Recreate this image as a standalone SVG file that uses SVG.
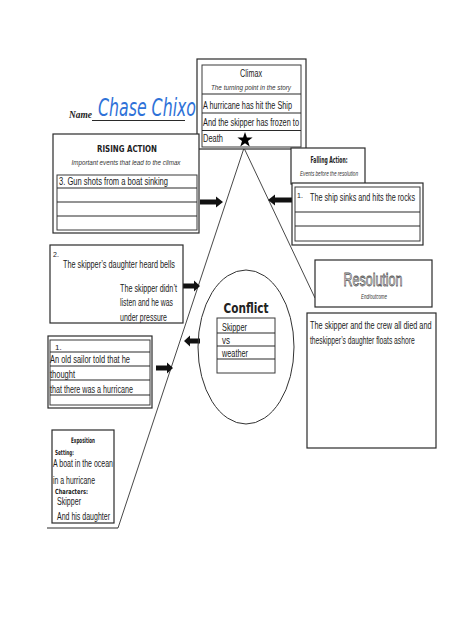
<svg xmlns="http://www.w3.org/2000/svg" width="474" height="632" viewBox="0 0 474 632">
<style>
.bg{fill:#fff}
.box{fill:#fff;stroke:#2a2a2a;stroke-width:1.2}
.thin{fill:none;stroke:#3a3a3a;stroke-width:1}
.ln{stroke:#2a2a2a;stroke-width:1.1;fill:none}
.plot{stroke:#333;stroke-width:0.9;fill:none}
.arr{fill:#111;stroke:none}
.t{font-family:"Liberation Sans Narrow","Liberation Sans",Arial,sans-serif;font-size:10.5px;fill:#1a1a1a}
.it{font-family:"Liberation Sans Narrow","Liberation Sans",Arial,sans-serif;font-size:7px;font-style:italic;fill:#333}
.hd{font-family:"DejaVu Sans",Verdana,sans-serif;font-weight:bold;fill:#222}
</style>
<rect class="bg" x="0" y="0" width="474" height="632"/>

<g id="connectors">
  <path class="plot" d="M118 528 L244 148 L315 298"/>
  <line class="ln" x1="47" y1="528" x2="118" y2="528"/>
  <path class="arr" d="M200 199.5 H216 V196.5 L223 202 L216 207.5 V204.5 H200 Z"/>
  <path class="arr" d="M292 197.5 H275 V194.5 L268 200 L275 205.5 V202.5 H292 Z"/>
  <path class="arr" d="M183 283.5 H194 V280.5 L200 286 L194 291.5 V288.5 H183 Z"/>
  <path class="arr" d="M200 338.5 H190 V335.5 L184 341 L190 346.5 V343.5 H200 Z"/>
  <path class="arr" d="M156 365.5 H167 V362.5 L173 368 L167 373.5 V370.5 H156 Z"/>
</g>

<g id="name">
  <text x="69" y="118" style="font-family:'Liberation Serif',serif;font-style:italic;font-weight:bold;font-size:10px;fill:#222" textLength="23" lengthAdjust="spacingAndGlyphs">Name</text>
  <line class="ln" x1="92" y1="120.5" x2="185" y2="120.5"/>
  <text transform="translate(98,116) scale(1,1.55)" x="0" y="0" style="font-family:'DejaVu Sans',sans-serif;font-style:italic;font-size:16px;fill:#2f72d8" textLength="98" lengthAdjust="spacingAndGlyphs">Chase Chixo</text>
</g>

<g id="climax">
  <rect class="box" x="197" y="59" width="109" height="90"/>
  <rect class="thin" x="202" y="65" width="99" height="82"/>
  <text x="251" y="77" text-anchor="middle" class="t" style="font-size:10px" textLength="22" lengthAdjust="spacingAndGlyphs">Climax</text>
  <text x="251" y="90" text-anchor="middle" class="it" style="font-size:7.5px" textLength="80" lengthAdjust="spacingAndGlyphs">The turning point in the story</text>
  <line class="ln" x1="202" y1="94" x2="301" y2="94"/>
  <text x="203" y="109" class="t" style="font-size:10px" textLength="89" lengthAdjust="spacingAndGlyphs">A hurricane has hit the Ship</text>
  <line class="ln" x1="202" y1="113" x2="301" y2="113"/>
  <text x="203" y="126" class="t" style="font-size:10px" textLength="96" lengthAdjust="spacingAndGlyphs">And the skipper has frozen to</text>
  <line class="ln" x1="202" y1="130.5" x2="301" y2="130.5"/>
  <text x="203" y="142" class="t" style="font-size:10px" textLength="20" lengthAdjust="spacingAndGlyphs">Death</text>
  <path fill="#000" d="M245 132 L246.9 137.4 L252.6 137.5 L248 141 L249.7 146.5 L245 143.2 L240.3 146.5 L242 141 L237.4 137.5 L243.1 137.4 Z"/>
</g>

<g id="rising-action">
  <rect class="box" x="53" y="134" width="146" height="99"/>
  <text x="127" y="152" text-anchor="middle" class="hd" style="font-size:9px" textLength="60" lengthAdjust="spacingAndGlyphs">RISING ACTION</text>
  <text x="126" y="165" text-anchor="middle" class="it" style="font-size:7.5px" textLength="109" lengthAdjust="spacingAndGlyphs">Important events that lead to the climax</text>
  <rect class="thin" x="57" y="175" width="140" height="55"/>
  <text x="59" y="185" class="t" textLength="109" lengthAdjust="spacingAndGlyphs">3.  Gun shots from a boat sinking</text>
  <line class="ln" x1="57" y1="188" x2="197" y2="188"/>
  <line class="ln" x1="57" y1="202" x2="197" y2="202"/>
  <line class="ln" x1="57" y1="216" x2="197" y2="216"/>
</g>

<g id="falling-action">
  <rect class="box" x="291" y="148" width="74" height="36"/>
  <text x="329" y="163" text-anchor="middle" class="hd" style="font-size:8px" textLength="37" lengthAdjust="spacingAndGlyphs">Falling Action:</text>
  <text x="329" y="176" text-anchor="middle" class="it" style="font-size:6.5px" textLength="58" lengthAdjust="spacingAndGlyphs">Events before the resolution</text>
  <rect class="box" x="292" y="183" width="131" height="62"/>
  <rect class="thin" x="295" y="187" width="125" height="54"/>
  <text x="297" y="198" class="t" style="font-size:7px">1.</text>
  <text x="310" y="201" class="t" textLength="105" lengthAdjust="spacingAndGlyphs">The ship sinks and hits the rocks</text>
  <line class="ln" x1="295" y1="212" x2="420" y2="212"/>
  <line class="ln" x1="295" y1="226" x2="420" y2="226"/>
</g>

<g id="event-2">
  <rect class="box" x="50" y="245" width="133" height="78"/>
  <text x="53" y="257" class="t" style="font-size:7px">2.</text>
  <text x="63" y="268" class="t" textLength="112" lengthAdjust="spacingAndGlyphs">The skipper’s daughter heard bells</text>
  <text x="120" y="292" class="t" textLength="57" lengthAdjust="spacingAndGlyphs">The skipper didn’t</text>
  <text x="120" y="306" class="t" textLength="53" lengthAdjust="spacingAndGlyphs">listen and he was</text>
  <text x="120" y="321" class="t" textLength="47" lengthAdjust="spacingAndGlyphs">under pressure</text>
</g>

<g id="event-1">
  <rect class="box" x="48" y="336" width="104" height="72"/>
  <rect class="thin" x="50" y="340" width="100" height="65"/>
  <text x="55" y="350" class="t" style="font-size:8px">1.</text>
  <line class="ln" x1="50" y1="352" x2="150" y2="352"/>
  <text x="50" y="363" class="t" textLength="80" lengthAdjust="spacingAndGlyphs">An old sailor told that  he</text>
  <line class="ln" x1="50" y1="366" x2="150" y2="366"/>
  <text x="50" y="378" class="t" textLength="25" lengthAdjust="spacingAndGlyphs">thought</text>
  <line class="ln" x1="50" y1="380" x2="150" y2="380"/>
  <text x="50" y="393" class="t" textLength="83" lengthAdjust="spacingAndGlyphs">that there was a hurricane</text>
  <line class="ln" x1="50" y1="395" x2="150" y2="395"/>
</g>

<g id="conflict">
  <ellipse cx="246" cy="347" rx="48" ry="77" fill="none" stroke="#333" stroke-width="1"/>
  <text x="246" y="313" text-anchor="middle" class="hd" style="font-size:14px" textLength="45" lengthAdjust="spacingAndGlyphs">Conflict</text>
  <rect class="thin" x="217" y="318" width="58" height="55"/>
  <text x="222" y="331" class="t" textLength="25" lengthAdjust="spacingAndGlyphs">Skipper</text>
  <line class="ln" x1="217" y1="333" x2="275" y2="333"/>
  <text x="222" y="344" class="t" textLength="8" lengthAdjust="spacingAndGlyphs">vs</text>
  <line class="ln" x1="217" y1="346" x2="275" y2="346"/>
  <text x="222" y="357" class="t" textLength="26" lengthAdjust="spacingAndGlyphs">weather</text>
  <line class="ln" x1="217" y1="359" x2="275" y2="359"/>
</g>

<g id="resolution-title">
  <rect class="box" x="315" y="260" width="117" height="47"/>
  <text x="373" y="286" text-anchor="middle" style="font-family:'Liberation Sans Narrow','Liberation Sans',Arial,sans-serif;font-size:18px;fill:#fff;stroke:#555;stroke-width:0.8" textLength="59" lengthAdjust="spacingAndGlyphs">Resolution</text>
  <text x="374" y="299" text-anchor="middle" class="it" textLength="26" lengthAdjust="spacingAndGlyphs">End/outcome</text>
</g>

<g id="resolution">
  <rect class="box" x="307" y="313" width="129" height="135"/>
  <text transform="translate(310,329) scale(0.65,1)" x="0" y="0" class="t" textLength="187" lengthAdjust="spacingAndGlyphs">The skipper and the crew all died and</text>
  <text transform="translate(310,344) scale(0.65,1)" x="0" y="0" class="t" textLength="161" lengthAdjust="spacingAndGlyphs">theskipper’s daughter floats ashore</text>
</g>

<g id="exposition">
  <rect class="box" x="52" y="430" width="62" height="93"/>
  <text x="83" y="443" text-anchor="middle" class="hd" style="font-size:7.5px" textLength="24" lengthAdjust="spacingAndGlyphs">Exposition</text>
  <text x="55" y="455" class="hd" style="font-size:7px" textLength="19" lengthAdjust="spacingAndGlyphs">Setting:</text>
  <text x="53" y="467" class="t" textLength="60" lengthAdjust="spacingAndGlyphs">A boat in the ocean</text>
  <text x="53" y="484" class="t" textLength="42" lengthAdjust="spacingAndGlyphs">in a hurricane</text>
  <text x="55" y="494" class="hd" style="font-size:7px" textLength="33" lengthAdjust="spacingAndGlyphs">Characters:</text>
  <text x="57" y="505" class="t" style="font-size:10px" textLength="24" lengthAdjust="spacingAndGlyphs">Skipper</text>
  <text x="57" y="520" class="t" textLength="53" lengthAdjust="spacingAndGlyphs">And his daughter</text>
</g>
</svg>
